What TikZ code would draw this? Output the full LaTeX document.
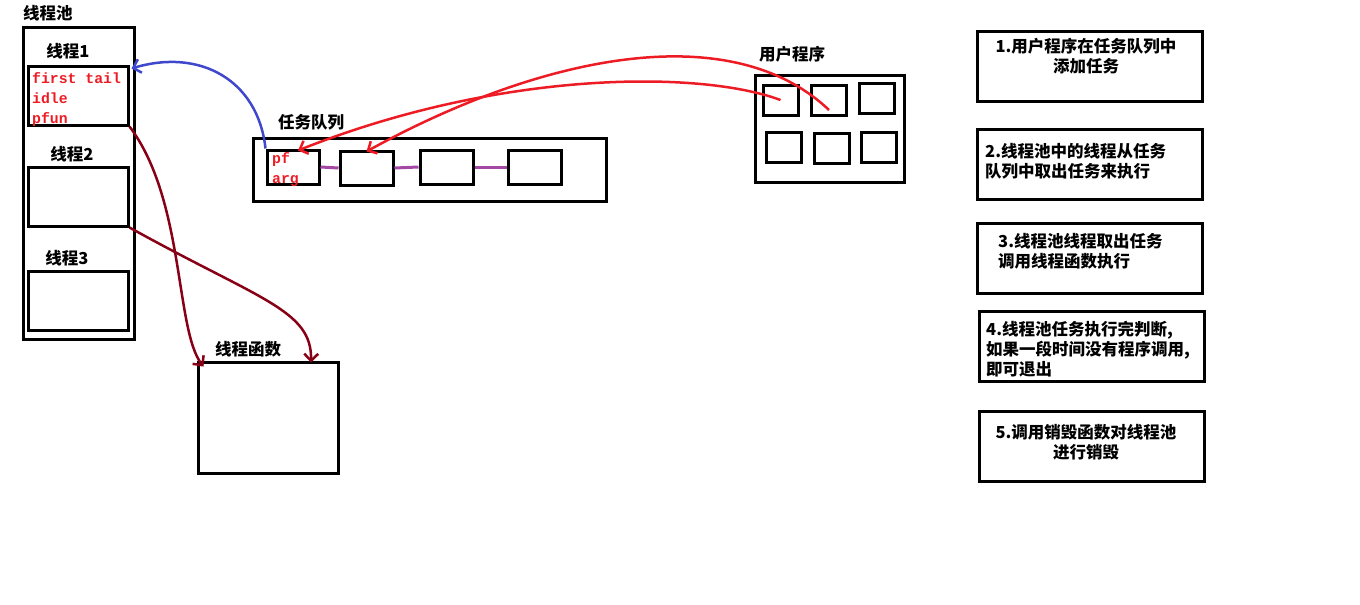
\documentclass[tikz,border=0pt]{standalone}
\usepackage{fontspec}
\newfontfamily\cjk{Noto Sans CJK SC}
\newfontfamily\monofnt{Liberation Mono}
\usetikzlibrary{calc, arrows.meta}
\definecolor{paintred}{HTML}{ED1C24}
\definecolor{paintblue}{HTML}{3F48CC}
\definecolor{maroon}{HTML}{880015}
\definecolor{violet}{HTML}{A349A4}

\begin{document}
\begin{tikzpicture}[
    x=1pt, y=-1pt,
    font=\cjk\bfseries\fontsize{16.5}{20}\selectfont,
    box/.style={
        draw,
        line width=3pt,
        inner sep=0pt
    },
    title/.style={inner sep=0pt},
    code/.style={
        inner sep=0pt,
        align=left,
        text=paintred,
        font=\monofnt\bfseries\fontsize{14.8}{20}\selectfont
    },
    steptext/.style={inner sep=0pt},
    link/.style={draw=violet, line width=3pt},
    callback/.style={draw=paintred, line width=2.5pt, -{Straight Barb[length=7pt, width=14pt]}},
    backref/.style={draw=paintblue, line width=2.5pt, -{Straight Barb[length=7pt, width=14pt]}},
    invoke/.style={draw=maroon, line width=2.5pt, -{Straight Barb[length=7pt, width=14pt]}}
]
\useasboundingbox (0,0) rectangle (1360,605);

% thread pool
\node[title] (poolname) at (48,13) {线程池};
\node[box, minimum width=111pt, minimum height=312pt] (pool) at (78.5,183) {};
\node[title] (th1name) at (68,51) {线程1};
\node[box, minimum width=100pt, minimum height=59pt] (th1) at (78,95.5) {};
\node[code, anchor=north west] (th1code) at (32,72) {first tail\\idle\\pfun};
\node[title] (th2name) at (72,154) {线程2};
\node[box, minimum width=100pt, minimum height=59pt] (th2) at (78,196.5) {};
\node[title] (th3name) at (67,258) {线程3};
\node[box, minimum width=100pt, minimum height=59pt] (th3) at (78,300.5) {};

% task queue
\node[title] (queuename) at (311,122) {任务队列};
\node[box, minimum width=353pt, minimum height=63pt] (queue) at (429.5,169.5) {};
\node[box, minimum width=52pt, minimum height=34pt] (T1) at (293,167) {};
\node[box, minimum width=53pt, minimum height=34pt] (T2) at (366.5,168) {};
\node[box, minimum width=53pt, minimum height=34pt] (T3) at (446.5,167) {};
\node[box, minimum width=53pt, minimum height=34pt] (T4) at (534.5,167) {};
\node[code, anchor=north west] (T1code) at (272,152) {pf\\arg};

\draw[link] (T1.east) -- (T2.west);
\draw[link] (T2.east) -- (T3.west);
\draw[link] (T3.east) -- (T4.west);

% user program
\node[title] (username) at (792,54) {用户程序};
\node[box, minimum width=149pt, minimum height=107pt] (user) at (829.5,128.5) {};
\node[box, minimum width=35pt, minimum height=30pt] (u1) at (780.5,100) {};
\node[box, minimum width=35pt, minimum height=30pt] (u2) at (829,100) {};
\node[box, minimum width=35pt, minimum height=30pt] (u3) at (877,98.5) {};
\node[box, minimum width=35pt, minimum height=30pt] (u4) at (783.5,147) {};
\node[box, minimum width=35pt, minimum height=30pt] (u5) at (831.5,148.5) {};
\node[box, minimum width=35pt, minimum height=30pt] (u6) at (878.5,147) {};

% thread function
\node[title] (funcname) at (248,349) {线程函数};
\node[box, minimum width=140pt, minimum height=111pt] (func) at (268,417.5) {};

% steps
\node[box, minimum width=225pt, minimum height=70pt] (s1) at (1089.5,66) {};
\node[box, minimum width=225pt, minimum height=70pt] (s2) at (1089.5,164) {};
\node[box, minimum width=225pt, minimum height=70pt] (s3) at (1089.5,258) {};
\node[box, minimum width=225pt, minimum height=70pt] (s4) at (1091.5,346) {};
\node[box, minimum width=225pt, minimum height=70pt] (s5) at (1091.5,446) {};
\node[steptext, anchor=north, align=center] (s1text) at (1086,38) {1.用户程序在任务队列中\\添加任务};
\node[steptext, anchor=north west, align=left] (s2text) at (985,143) {2.线程池中的线程从任务\\队列中取出任务来执行};
\node[steptext, anchor=north west, align=left] (s3text) at (998,233) {3.线程池线程取出任务\\调用线程函数执行};
\node[steptext, anchor=north west, align=left] (s4text) at (986,321) {4.线程池任务执行完判断,\\如果一段时间没有程序调用,\\即可退出};
\node[steptext, anchor=north, align=center] (s5text) at (1086,424) {5.调用销毁函数对线程池\\进行销毁};

% arrows
\draw[backref] (T1.north west) .. controls (258,80) and (200,48) .. ($(th1.north east)+(2,4)$);
\draw[callback] (u1.center) .. controls (700,70) and (500,70) .. ($(T1.north)+(5,2)$);
\draw[callback] ($(u2.center)+(0,10)$) .. controls (730,16) and (540,56) .. ($(T2.north)+(0,2)$);
\draw[invoke] (th1.south east) .. controls (185,200) and (175,330) .. ($(func.north west)+(7,6)$);
\draw[invoke] (th2.south east) .. controls (260,300) and (312,310) .. ($(func.north)+(43,2)$);

\end{tikzpicture}
\end{document}
